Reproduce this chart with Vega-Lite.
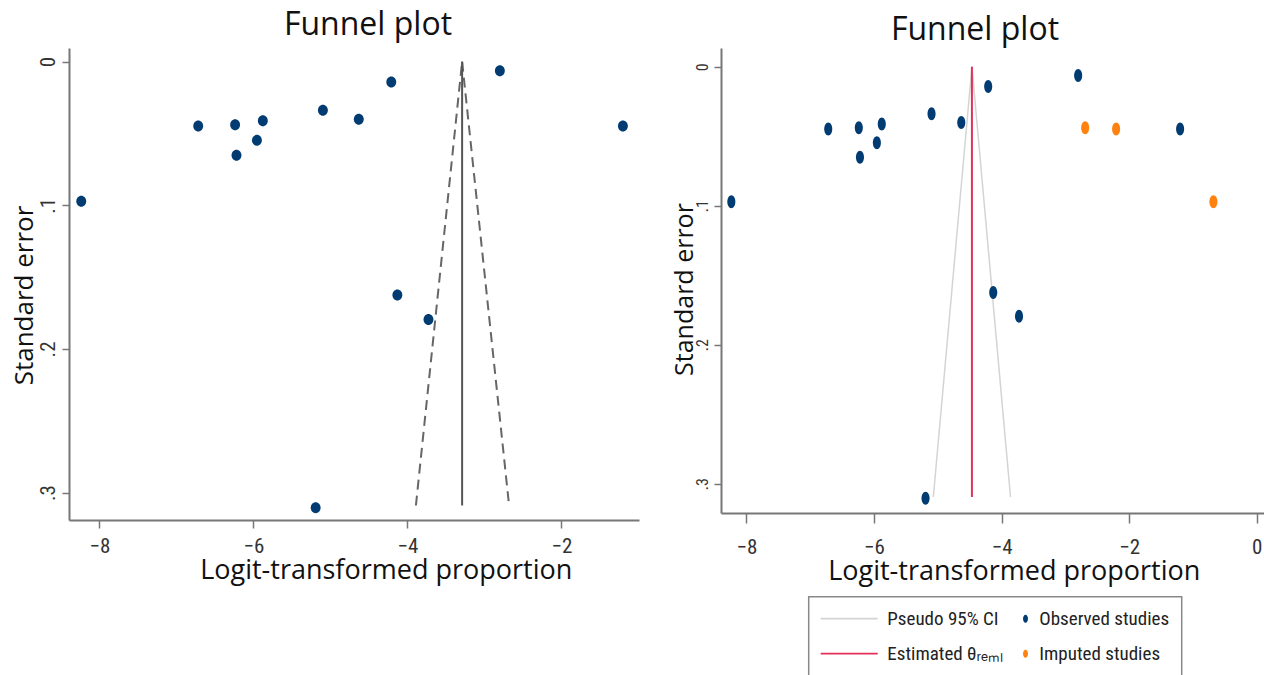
{
  "$schema": "https://vega.github.io/schema/vega-lite/v6.json",
  "background": "white",
  "padding": {"left": 11, "top": 9, "right": 0, "bottom": 0},
  "spacing": 33,
  "config": {
    "view": {"stroke": null},
    "axis": {"grid": false, "domainColor": "#777777", "domainWidth": 2, "tickColor": "#777777", "tickWidth": 1.5, "labelColor": "#333333", "titleColor": "#111111", "titleFont": "Open Sans", "titleFontWeight": "normal", "labelFont": "Liberation Sans Narrow, Arial Narrow, Roboto Condensed, Roboto, sans-serif", "labelOverlap": false, "labelFlush": false}
  },
  "datasets": {
    "studies": [
      {"x": -8.236, "se": 0.0972, "type": "Observed studies"},
      {"x": -6.717, "se": 0.0448, "type": "Observed studies"},
      {"x": -6.238, "se": 0.0440, "type": "Observed studies"},
      {"x": -6.220, "se": 0.0652, "type": "Observed studies"},
      {"x": -5.955, "se": 0.0548, "type": "Observed studies"},
      {"x": -5.878, "se": 0.0412, "type": "Observed studies"},
      {"x": -5.098, "se": 0.0338, "type": "Observed studies"},
      {"x": -4.632, "se": 0.0401, "type": "Observed studies"},
      {"x": -4.210, "se": 0.0142, "type": "Observed studies"},
      {"x": -2.800, "se": 0.0064, "type": "Observed studies"},
      {"x": -1.202, "se": 0.0448, "type": "Observed studies"},
      {"x": -4.131, "se": 0.1625, "type": "Observed studies"},
      {"x": -3.727, "se": 0.1795, "type": "Observed studies"},
      {"x": -5.192, "se": 0.3105, "type": "Observed studies"},
      {"x": -2.690, "se": 0.0440, "type": "Imputed studies"},
      {"x": -2.205, "se": 0.0448, "type": "Imputed studies"},
      {"x": -0.680, "se": 0.0972, "type": "Imputed studies"}
    ],
    "leftFunnel": [
      {"side": "lower", "x": -3.29, "se": 0},
      {"side": "lower", "x": -3.89, "se": 0.309},
      {"side": "upper", "x": -3.29, "se": 0},
      {"side": "upper", "x": -2.68, "se": 0.309}
    ],
    "leftEst": [{"x": -3.29, "se": 0, "se2": 0.309}],
    "rightFunnel": [
      {"side": "lower", "x": -4.465, "se": 0},
      {"side": "lower", "x": -5.07, "se": 0.3096},
      {"side": "upper", "x": -4.465, "se": 0},
      {"side": "upper", "x": -3.86, "se": 0.3096}
    ],
    "rightEst": [{"x": -4.465, "se": 0, "se2": 0.3096}]
  },
  "hconcat": [
    {
      "width": 570,
      "height": 472,
      "title": {"text": "Funnel plot", "font": "Open Sans", "fontSize": 32, "fontWeight": "normal", "color": "#111111", "anchor": "middle", "dx": 14, "baseline": "alphabetic", "offset": -19},
      "encoding": {
        "x": {"field": "x", "type": "quantitative",
          "scale": {"domain": [-8.395, -0.993], "nice": false, "zero": false},
          "axis": {"values": [-8, -6, -4, -2], "title": "Logit-transformed proportion", "titleFontSize": 27, "titleX": 316.7, "titleY": 58.7, "titleBaseline": "alphabetic", "titleAlign": "center", "labelFontSize": 21, "labelBaseline": "alphabetic", "labelPadding": 24.4, "tickSize": 8}},
        "y": {"field": "se", "type": "quantitative",
          "scale": {"domain": [-0.0095, 0.3191], "nice": false, "zero": false, "reverse": true},
          "axis": {"values": [0, 0.1, 0.2, 0.3], "labelExpr": "datum.value == 0 ? '0' : replace(format(datum.value, '.1f'), '0.', '.')", "labelAngle": -90, "labelAlign": "center", "labelBaseline": "alphabetic", "labelPadding": 7.6, "labelFontSize": 21, "tickSize": 7, "title": "Standard error", "titleFontSize": 26, "titleAngle": -90, "titleX": -37, "titleY": 247, "titleAlign": "center", "titleBaseline": "alphabetic"}}
      },
      "layer": [
        {
          "data": {"name": "leftFunnel"},
          "mark": {"type": "line", "color": "#666666", "strokeWidth": 2, "strokeDash": [10, 6]},
          "encoding": {"detail": {"field": "side"}}
        },
        {
          "data": {"name": "leftEst"},
          "mark": {"type": "rule", "color": "#555555", "strokeWidth": 2},
          "encoding": {"y2": {"field": "se2"}}
        },
        {
          "data": {"name": "studies"},
          "transform": [{"filter": "datum.type == 'Observed studies'"}],
          "mark": {"type": "point", "filled": true, "opacity": 1, "color": "#003b71", "size": 121, "shape": "M-0.9,0A0.9,1 0 1,0 0.9,0A0.9,1 0 1,0 -0.9,0Z"}
        }
      ]
    },
    {
      "width": 546,
      "height": 465,
      "title": {"text": "Funnel plot", "font": "Open Sans", "fontSize": 32, "fontWeight": "normal", "color": "#111111", "anchor": "middle", "dx": -19, "baseline": "alphabetic", "offset": -24},
      "encoding": {
        "x": {"field": "x", "type": "quantitative",
          "scale": {"domain": [-8.398, 0.16], "nice": false, "zero": false},
          "axis": {"values": [-8, -6, -4, -2, 0], "title": "Logit-transformed proportion", "titleFontSize": 27, "titleX": 292.7, "titleY": 66.6, "titleBaseline": "alphabetic", "titleAlign": "center", "labelFontSize": 21, "labelBaseline": "alphabetic", "labelPadding": 30, "tickSize": 10}},
        "y": {"field": "se", "type": "quantitative",
          "scale": {"domain": [-0.01346, 0.3211], "nice": false, "zero": false, "reverse": true},
          "axis": {"values": [0, 0.1, 0.2, 0.3], "labelExpr": "datum.value == 0 ? '0' : replace(format(datum.value, '.1f'), '0.', '.')", "labelAngle": -90, "labelAlign": "center", "labelBaseline": "alphabetic", "labelPadding": 6.3, "labelFontSize": 16, "tickSize": 7, "title": "Standard error", "titleFontSize": 25, "titleAngle": -90, "titleX": -28.3, "titleY": 241, "titleAlign": "center", "titleBaseline": "alphabetic"}}
      },
      "layer": [
        {
          "data": {"name": "rightFunnel"},
          "mark": {"type": "line", "color": "#d4d4d4", "strokeWidth": 1.5},
          "encoding": {"detail": {"field": "side"}}
        },
        {
          "data": {"name": "rightEst"},
          "mark": {"type": "rule", "color": "#e3305a", "strokeWidth": 2},
          "encoding": {"y2": {"field": "se2"}}
        },
        {
          "data": {"name": "studies"},
          "mark": {"type": "point", "filled": true, "opacity": 1, "size": 169, "shape": "M-0.62,0A0.62,1 0 1,0 0.62,0A0.62,1 0 1,0 -0.62,0Z"},
          "encoding": {
            "color": {"field": "type", "type": "nominal",
              "scale": {"domain": ["Pseudo 95% CI", "Observed studies", "Estimated θᵣₑₘₗ", "Imputed studies"], "range": ["#d4d4d4", "#003b71", "#e3305a", "#ff8210"]},
              "legend": {"orient": "none", "direction": "horizontal", "legendX": 739.7, "legendY": 548.7, "columns": 2, "title": " ", "titleOrient": "left", "titleFontSize": 1, "titlePadding": 37, "symbolSize": 400, "labelOffset": 9.6, "labelFont": "Liberation Sans Narrow, Arial Narrow, Roboto Condensed, Roboto, sans-serif", "labelFontSize": 19, "labelColor": "#222222", "labelLimit": 400, "rowPadding": 15, "columnPadding": 6, "padding": 12, "strokeColor": "#888888", "fillColor": "white", "symbolOpacity": 1,
                "encode": {
                  "legend": {"update": {"strokeWidth": {"value": 1.5}}},
                  "symbols": {"update": {"shape": {"signal": "datum.value == 'Observed studies' || datum.value == 'Imputed studies' ? 'M0.33,0A0.25,0.4 0 1,0 0.83,0A0.25,0.4 0 1,0 0.33,0Z' : 'M-4.7,-0.09L1,-0.09L1,0.09L-4.7,0.09Z'"}, "strokeWidth": {"value": 0}}}}
              }
            }
          }
        }
      ]
    }
  ]
}
